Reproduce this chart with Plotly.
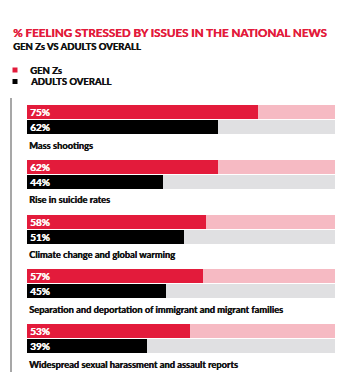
import plotly.graph_objects as go

categories = [
    "Mass shootings",
    "Rise in suicide rates",
    "Climate change and global warming",
    "Separation and deportation of immigrant and migrant families",
    "Widespread sexual harassment and assault reports",
]
gen_z = [75, 62, 58, 57, 53]
adults = [62, 44, 51, 45, 39]
series_names = ["GEN Zs", "ADULTS OVERALL"]
title_text = "% FEELING STRESSED BY ISSUES IN THE NATIONAL NEWS"
subtitle_text = "GEN Zs VS ADULTS OVERALL"

RED = "#E31B3B"
PINK = "#F6BAC3"
BLACK = "#000000"
GREY = "#E0E0E2"
INK = "#111111"

W, H = 355, 387
# layout in pixel units (y axis maps 1:1 to pixels)
first_top = 105
step = 54.75
bar_h = 14
gap = 1
red_c = [first_top + bar_h / 2 + i * step for i in range(len(categories))]
blk_c = [c + bar_h + gap for c in red_c]
lab_c = [first_top + 40 + i * step for i in range(len(categories))]

FONT = "Lato"
WT = "bold"


def fnt(size, color):
    return dict(family=FONT, size=size, color=color, weight=WT, shadow=f"0.4px 0 0 {color}")


fig = go.Figure()
fig.add_trace(go.Bar(x=[100] * len(categories), y=red_c, orientation="h", width=bar_h,
                     marker=dict(color=PINK, line=dict(width=0)), showlegend=False, hoverinfo="skip"))
fig.add_trace(go.Bar(x=[100] * len(categories), y=blk_c, orientation="h", width=bar_h,
                     marker=dict(color=GREY, line=dict(width=0)), showlegend=False, hoverinfo="skip"))
fig.add_trace(go.Bar(x=gen_z, y=red_c, orientation="h", width=bar_h, name=series_names[0],
                     marker=dict(color=RED, line=dict(width=0)),
                     text=[f"{v}%" for v in gen_z], textposition="inside", insidetextanchor="start",
                     textfont=fnt(10, "white"), showlegend=False))
fig.add_trace(go.Bar(x=adults, y=blk_c, orientation="h", width=bar_h, name=series_names[1],
                     marker=dict(color=BLACK, line=dict(width=0)),
                     text=[f"{v}%" for v in adults], textposition="inside", insidetextanchor="start",
                     textfont=fnt(10, "white"), showlegend=False))

annotations = []
for cat, yc in zip(categories, lab_c):
    annotations.append(dict(x=0, xref="x", y=yc, yref="y", text=cat, showarrow=False,
                            xanchor="left", yanchor="middle", font=fnt(9.3, INK)))
annotations.append(dict(x=11 / W, xref="paper", y=32, yref="y", text=title_text, showarrow=False,
                        xanchor="left", yanchor="middle", font=fnt(11.6, RED)))
annotations.append(dict(x=11 / W, xref="paper", y=46, yref="y", text=subtitle_text, showarrow=False,
                        xanchor="left", yanchor="middle", font=fnt(9.5, INK)))
shapes = []
for name, col, yc in zip(series_names, [RED, BLACK], [70, 81.5]):
    annotations.append(dict(x=28 / W, xref="paper", y=yc, yref="y", text=name, showarrow=False,
                            xanchor="left", yanchor="middle", font=fnt(9.5, INK)))
    shapes.append(dict(type="rect", xref="paper", yref="y", x0=12.5 / W, x1=17.5 / W,
                       y0=yc - 2.5, y1=yc + 2.5, fillcolor=col, line=dict(width=0)))
shapes.append(dict(type="line", xref="paper", yref="y", x0=11 / W, x1=11 / W, y0=98, y1=372,
                   line=dict(color="#8a8a8a", width=1.5)))

fig.update_layout(
    width=W, height=H,
    margin=dict(l=0, r=0, t=0, b=0),
    paper_bgcolor="white", plot_bgcolor="white",
    barmode="overlay", bargap=0,
    xaxis=dict(domain=[27 / W, 335 / W], range=[0, 100], visible=False, fixedrange=True),
    yaxis=dict(range=[H, 0], visible=False, fixedrange=True),
    annotations=annotations, shapes=shapes,
    showlegend=False,
    uniformtext=dict(mode="show", minsize=9),
)

fig.write_html("out.html", config={"displayModeBar": False},
               post_script="document.body.style.margin='0';")
